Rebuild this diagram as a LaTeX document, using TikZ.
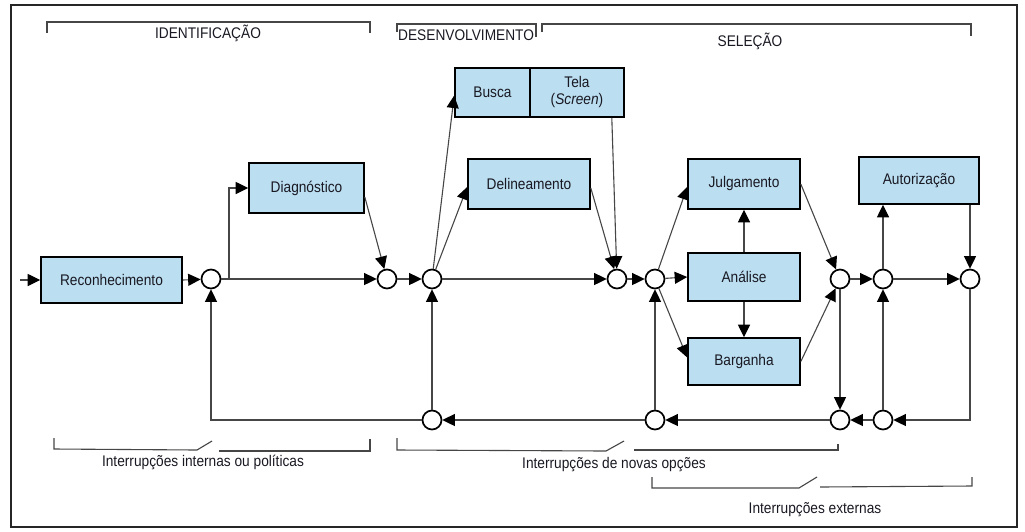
\documentclass[tikz,border=0pt]{standalone}
\usepackage{fontspec}
\setmainfont{Liberation Sans}
\usepackage{graphicx}
\usetikzlibrary{arrows.meta,calc}
\definecolor{boxblue}{RGB}{187,222,240}
\definecolor{linegray}{RGB}{70,70,70}
\definecolor{txtcol}{RGB}{25,25,35}
\newcommand{\nx}[1]{\scalebox{0.89}[1]{#1}}
\begin{document}
\begin{tikzpicture}[x=1pt,y=-1pt,
  box/.style={draw=black, line width=1.6pt, fill=boxblue, inner sep=0pt, text=txtcol, font=\fontsize{15.4}{17}\selectfont},
  junc/.style={circle, draw=black, line width=1.7pt, fill=white, minimum size=19pt, inner sep=0pt},
  arr/.style={draw=linegray, line width=1.1pt, -{Triangle[length=12.5pt,width=12pt,color=black]}},
  conn/.style={draw=linegray, line width=1.1pt},
  brk/.style={draw=linegray, line width=1.1pt},
  lbl/.style={text=txtcol, font=\fontsize{15.4}{17}\selectfont, inner sep=0pt}]
\useasboundingbox (0,0) rectangle (1025,531);
\draw[line width=1.8pt, draw=black!85] (11,5) rectangle (1017,527);

% boxes
\node[box, minimum width=141pt, minimum height=46pt] (rec) at (111.5,280) {\nx{Reconhecimento}};
\node[box, minimum width=115pt, minimum height=50pt] (diag) at (306.5,188) {\nx{Diagnóstico}};
\node[box, minimum width=75pt, minimum height=49pt] (busca) at (492.5,92.5) {\nx{Busca}};
\node[box, minimum width=94pt, minimum height=49pt] (tela) at (577,92.5) {\nx{\begin{tabular}{@{}c@{}}Tela\\(\textit{Screen})\end{tabular}}};
\node[box, minimum width=122pt, minimum height=50pt] (delin) at (529,184) {\nx{Delineamento}};
\node[box, minimum width=112pt, minimum height=50pt] (julg) at (744,184) {\nx{Julgamento}};
\node[box, minimum width=112pt, minimum height=48pt] (anal) at (744,277) {\nx{Análise}};
\node[box, minimum width=112pt, minimum height=47pt] (barg) at (744,361.5) {\nx{Barganha}};
\node[box, minimum width=120pt, minimum height=47pt] (autor) at (919,180.5) {\nx{Autorização}};

% junctions
\node[junc] (c1) at (211,279) {};
\node[junc] (c2) at (387,279) {};
\node[junc] (c3) at (432,279) {};
\node[junc] (c4) at (617,279) {};
\node[junc] (c5) at (655,279) {};
\node[junc] (c6) at (840,279) {};
\node[junc] (c7) at (883,279) {};
\node[junc] (c8) at (970,279) {};
\node[junc] (b1) at (432,420) {};
\node[junc] (b2) at (655,420) {};
\node[junc] (b3) at (840,420) {};
\node[junc] (b4) at (883,420) {};

\coordinate (in) at (20,280);
\coordinate (br) at (229,279);

% main flow
\draw[arr] (in) -- (rec.west);
\draw[arr] (rec.east) -- (c1);
\draw[arr] (c1) -- (c2);
\draw[arr] (br) |- (diag.west);
\draw[arr] ([yshift=-9pt]diag.east) -- (c2);
\draw[arr] (c2) -- (c3);
\draw[arr] (c3) -- ([yshift=-3pt]busca.west);
\draw[arr] (c3) -- ([yshift=-3pt]delin.west);
\draw[arr] (c3) -- (c4);
\draw[arr] ([yshift=-4pt]delin.east) -- (c4);
\draw[arr] ([xshift=-13pt]tela.south east) -- (c4);
\draw[arr] (c4) -- (c5);
\draw[arr] (c5) -- ([yshift=-3pt]julg.west);
\draw[arr] (c5) -- (anal.west);
\draw[arr] (c5) -- ([yshift=4pt]barg.west);
\draw[arr] (anal.north) -- (julg.south);
\draw[arr] (anal.south) -- (barg.north);
\draw[arr] (julg.east) -- (c6);
\draw[arr] (barg.east) -- (c6);
\draw[arr] (c6) -- (c7);
\draw[arr] (c7) -- (c7 |- autor.south);
\draw[arr] (c7) -- (c8);
\draw[arr] (autor.south -| c8) -- (c8);

% feedback
\draw[arr] (c8) -- (c8 |- b4) -- (b4);
\draw[arr] (b4) -- (b3);
\draw[arr] (b4) -- (c7);
\draw[arr] (c6) -- (b3);
\draw[arr] (b3) -- (b2);
\draw[arr] (b2) -- (c5);
\draw[arr] (b2) -- (b1);
\draw[arr] (b1) -- (c3);
\draw[arr] (b1) -| (c1);

% top brackets
\draw[brk] (47,33) -- (47,22) -- (370,22) -- (370,33);
\draw[brk] (397,32) -- (397,24) -- (536,24) -- (536,37);
\draw[brk] (542,32) -- (542,24) -- (971,24) -- (971,36);
\node[lbl] (tid) at (208,33) {\nx{IDENTIFICAÇÃO}};
\node[lbl, anchor=west] (tdev) at (398,35) {\nx{DESENVOLVIMENTO}};
\node[lbl] (tsel) at (750,41) {\nx{SELEÇÃO}};

% bottom brackets
\draw[brk] (54,438) -- (54,449) -- (197,450) -- (212,441);
\draw[brk] (219,451) -- (370,451) -- (370,439);
\node[lbl] (tint) at (203,462) {\nx{Interrupções internas ou políticas}};
\draw[brk] (397,438) -- (397,450) -- (606,451) -- (624,441);
\draw[brk] (634,450) -- (838,450) -- (838,444);
\node[lbl] (tnov) at (614,465) {\nx{Interrupções de novas opções}};
\draw[brk] (652,477) -- (652,488) -- (799,488) -- (817,477);
\draw[brk] (820,487) -- (972,486) -- (972,477);
\node[lbl] (text) at (815,510) {\nx{Interrupções externas}};
\end{tikzpicture}
\end{document}
